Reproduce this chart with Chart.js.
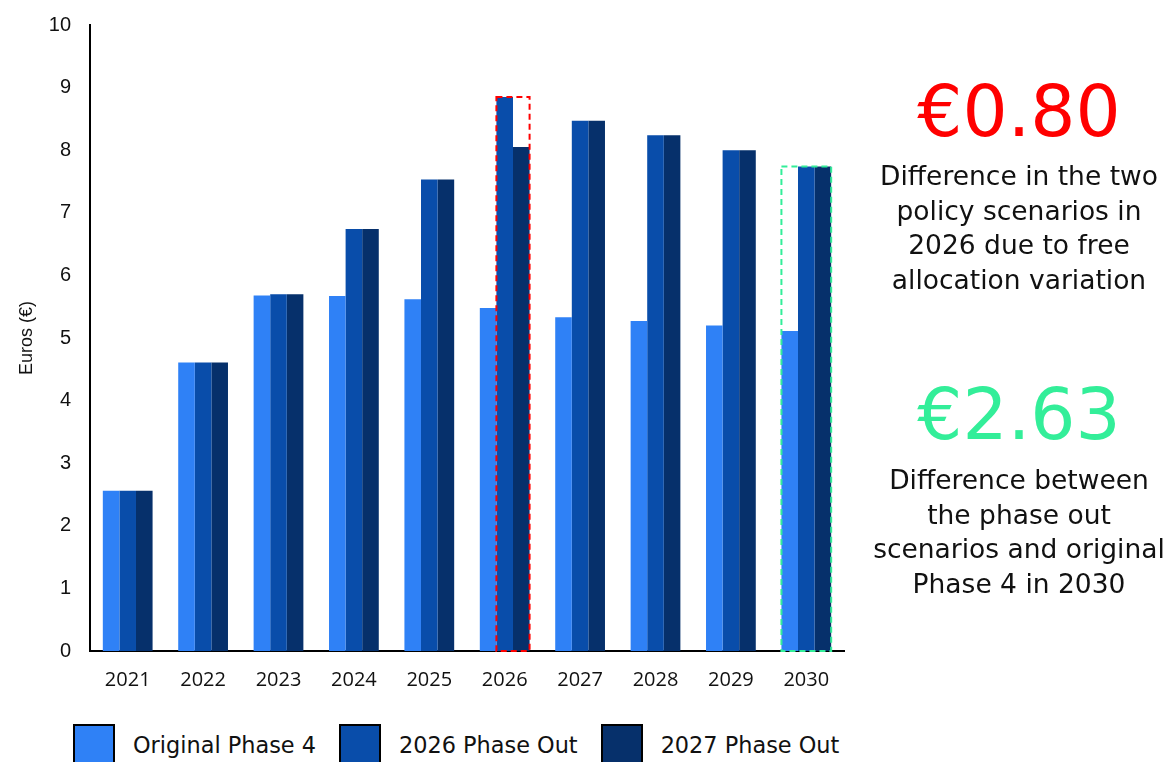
<!DOCTYPE html>
<html>
<head>
<meta charset="utf-8">
<script src="https://cdn.jsdelivr.net/npm/chart.js@4"></script>
<style>
  body { margin: 0; width: 1169px; height: 762px; overflow: hidden; background: #fff; position: relative; font-family: "DejaVu Sans", sans-serif; }
  #wrap { position: absolute; left: 0; top: 0; width: 870px; height: 720px; }
  #legend { position: absolute; left: 73px; top: 724px; display: flex; align-items: flex-start; font-size: 22.4px; color: #111; }
  #legend .box { width: 38px; height: 44px; border: 2px solid #000; margin-right: 18px; }
  #legend .txt { margin-right: 23px; line-height: 42px; }
  #notes { position: absolute; left: 866px; top: 0; width: 306px; text-align: center; white-space: nowrap; color: #111; }
  .big { font-size: 71px; line-height: 71px; }
  .desc { font-size: 26.5px; line-height: 34.7px; }
</style>
</head>
<body>
<div id="wrap"><canvas id="priceChart" width="870" height="720"></canvas></div>
<div id="legend"></div>
<div id="notes">
  <div class="big" style="color:#ff0000; position:absolute; top:76px; width:100%;">€0.80</div>
  <div class="desc" style="position:absolute; top:159px; width:100%;">Difference in the two<br>policy scenarios in<br>2026 due to free<br>allocation variation</div>
  <div class="big" style="color:#33ee99; position:absolute; top:379px; width:100%;">€2.63</div>
  <div class="desc" style="position:absolute; top:463px; width:100%;">Difference between<br>the phase out<br>scenarios and original<br>Phase 4 in 2030</div>
</div>
<script>
const years = ['2021', '2022', '2023', '2024', '2025', '2026', '2027', '2028', '2029', '2030'];
const originalPhase4 = [2.56, 4.61, 5.68, 5.67, 5.62, 5.48, 5.33, 5.27, 5.20, 5.11];
const phaseOut2026 = [2.56, 4.61, 5.70, 6.74, 7.53, 8.85, 8.47, 8.24, 8.00, 7.74];
const phaseOut2027 = [2.56, 4.61, 5.70, 6.74, 7.53, 8.05, 8.47, 8.24, 8.00, 7.74];
const seriesNames = ['Original Phase 4', '2026 Phase Out', '2027 Phase Out'];
const seriesColors = ['#2f81f6', '#094daa', '#06306b'];

// dashed boxes around the bars the notes talk about
const highlights = [
    { year: '2026', series: [1, 2], color: '#ff0000' },
    { year: '2030', series: [0, 1, 2], color: '#33ee99' }
];

const highlightBoxes = {
    id: 'highlightBoxes',
    afterDatasetsDraw(chart) {
        const ctx = chart.ctx;
        highlights.forEach(h => {
            const i = years.indexOf(h.year);
            let left = Infinity, right = -Infinity, top = Infinity;
            h.series.forEach(s => {
                const bar = chart.getDatasetMeta(s).data[i];
                left = Math.min(left, bar.x - bar.width / 2);
                right = Math.max(right, bar.x + bar.width / 2);
                top = Math.min(top, bar.y);
            });
            const bottom = chart.scales.y.getPixelForValue(0);
            ctx.save();
            ctx.strokeStyle = h.color;
            ctx.lineWidth = 2;
            ctx.setLineDash([6, 4]);
            ctx.strokeRect(left, top, right - left, bottom - top);
            ctx.restore();
        });
    }
};

const allSeries = [originalPhase4, phaseOut2026, phaseOut2027];

const ctx = document.getElementById('priceChart').getContext('2d');
new Chart(ctx, {
    type: 'bar',
    data: {
        labels: years,
        datasets: allSeries.map((vals, k) => ({
            label: seriesNames[k],
            data: vals,
            backgroundColor: seriesColors[k],
            borderWidth: 0,
            categoryPercentage: 0.66,
            barPercentage: 1.0
        }))
    },
    options: {
        responsive: false,
        animation: false,
        layout: { padding: { top: 25, right: 26, left: 0, bottom: 0 } },
        plugins: {
            legend: { display: false },
            tooltip: { enabled: false }
        },
        scales: {
            x: {
                grid: { display: false, drawTicks: false },
                border: { display: true, color: '#000', width: 2 },
                ticks: { color: '#111', padding: 17, font: { family: 'Open Sans', size: 20 } },
                afterFit(scale) { scale.height = 69; }
            },
            y: {
                min: 0,
                max: 10,
                grid: { display: false, drawTicks: false },
                border: { display: true, color: '#000', width: 2 },
                ticks: { stepSize: 1, color: '#111', padding: 19, font: { family: 'Liberation Sans', size: 20 } },
                title: {
                    display: true,
                    text: 'Euros (€)',
                    color: '#111',
                    padding: { top: 16, bottom: 0 },
                    font: { family: 'Liberation Sans', size: 18 }
                },
                afterFit(scale) {
                    scale.width = 90;
                    // tick padding would otherwise push the plot top down
                    scale.paddingTop = 0;
                    scale.paddingBottom = 0;
                }
            }
        }
    },
    plugins: [highlightBoxes]
});

// legend drawn as html so the box/text spacing matches
const legend = document.getElementById('legend');
seriesNames.forEach((name, k) => {
    const box = document.createElement('div');
    box.className = 'box';
    box.style.background = seriesColors[k];
    const txt = document.createElement('div');
    txt.className = 'txt';
    txt.textContent = name;
    legend.appendChild(box);
    legend.appendChild(txt);
});
</script>
</body>
</html>
